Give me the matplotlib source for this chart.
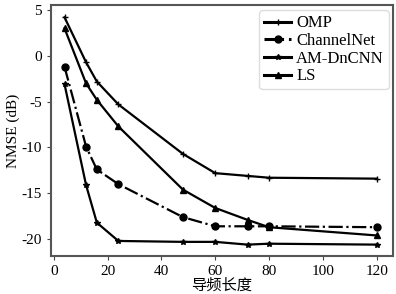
import matplotlib
matplotlib.use('Agg')
import matplotlib.pyplot as plt

plt.rcParams['font.family'] = ['Liberation Serif', 'Noto Sans CJK SC']
plt.rcParams['mathtext.fontset'] = 'stix'

# Dades llegides del gràfic
pilots = [4, 12, 16, 24, 48, 60, 72, 80, 120]
omp = [4.2, -0.7, -2.8, -5.3, -10.7, -12.8, -13.1, -13.3, -13.4]
channelnet = [-1.2, -9.9, -12.4, -14.0, -17.6, -18.6, -18.6, -18.6, -18.7]
am_dncnn = [-3.1, -14.1, -18.2, -20.2, -20.3, -20.3, -20.6, -20.5, -20.6]
ls = [3.0, -3.0, -4.8, -7.7, -14.6, -16.6, -17.9, -18.7, -19.6]

fig = plt.figure(figsize=(3.96, 2.94), dpi=100)
ax = fig.add_axes([0.129, 0.129, 0.863, 0.854])

ax.plot(pilots, omp, color='black', lw=1.6, marker='+', ms=5, mew=1, label='OMP')
ax.plot(pilots, channelnet, color='black', lw=1.6, ls='-.', marker='o', ms=5, label='ChannelNet')
ax.plot(pilots, am_dncnn, color='black', lw=1.6, marker='*', ms=4, label='AM-DnCNN')
ax.plot(pilots, ls, color='black', lw=1.6, marker='^', ms=4.5, label='LS')

ax.set_xlim(-1, 126)
ax.set_ylim(-21.85, 5.55)
ax.set_xticks([0, 20, 40, 60, 80, 100, 120])
ax.set_yticks([5, 0, -5, -10, -15, -20])
ax.set_yticklabels(['5', '0', '-5', '-10', '-15', '-20'])
ax.tick_params(labelsize=11, length=3, color='#444444')
ax.set_xlabel('导频长度', fontsize=11, labelpad=0)
ax.set_ylabel('NMSE (dB)', fontsize=11, labelpad=1)

for s in ax.spines.values():
    s.set_color('#555555')
    s.set_linewidth(1.5)

leg = ax.legend(loc='upper right', fontsize=12, handlelength=1.6, handletextpad=0.3,
                labelspacing=0.1, borderpad=0.3, borderaxespad=0.1, fancybox=True,
                framealpha=1, bbox_to_anchor=(0.993, 0.985))
leg.get_frame().set_edgecolor('#dddddd')
for h in leg.get_lines():
    h.set_linewidth(2.2)

fig.savefig('out.png', dpi=100)
